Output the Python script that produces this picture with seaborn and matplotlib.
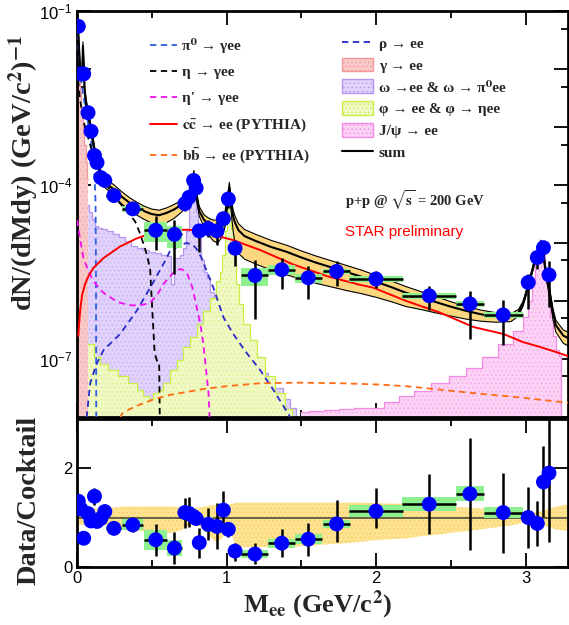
import numpy as np
import matplotlib
matplotlib.use('Agg')
import matplotlib.pyplot as plt
import seaborn as sns
from matplotlib.patches import Rectangle, Patch
from matplotlib.lines import Line2D

# ---- data points (STAR p+p 200 GeV dielectrons) ----
mass = [0.01, 0.028, 0.046, 0.075, 0.095, 0.118, 0.135, 0.16, 0.187, 0.248,
        0.374, 0.527, 0.652, 0.722, 0.75, 0.78, 0.797, 0.818, 0.878, 0.936,
        0.979, 1.012, 1.057, 1.19, 1.369, 1.546, 1.735, 1.998, 2.354, 2.626,
        2.848, 3.015, 3.076, 3.117, 3.154]
bin_half = [0, 0, 0, 0, 0, 0, 0, 0, 0, 0.05,
            0.07, 0.075, 0.05, 0, 0, 0, 0, 0, 0.03, 0.03,
            0, 0, 0, 0.09, 0.09, 0.09, 0.09, 0.18, 0.18, 0.095,
            0.13, 0, 0, 0, 0]
dn_log = [-1.26, -2.08, -2.08, -2.75, -3.07, -3.49, -3.61, -3.87, -3.92, -4.18,
          -4.41, -4.78, -4.85, -4.32, -4.21, -3.92, -4.05, -4.79, -4.75, -4.79,
          -4.58, -4.24, -5.09, -5.56, -5.46, -5.6, -5.49, -5.62, -5.91, -6.05,
          -6.24, -5.68, -5.25, -5.08, -5.55]
dn_err_dn = [0.02, 0.03, 0.03, 0.03, 0.03, 0.03, 0.03, 0.04, 0.04, 0.05,
             0.07, 0.34, 0.69, 0.12, 0.12, 0.06, 0.1, 0.36, 0.15, 0.24,
             0.12, 0.16, 0.31, 0.75, 0.34, 0.37, 0.25, 0.15, 0.25, 0.6,
             0.52, 0.46, 0.2, 0.22, 0.56]
dn_err_up = [0.02, 0.03, 0.03, 0.03, 0.03, 0.03, 0.03, 0.04, 0.04, 0.05,
             0.06, 0.24, 0.25, 0.1, 0.1, 0.05, 0.08, 0.09, 0.15, 0.21,
             0.08, 0.09, 0.14, 0.27, 0.2, 0.2, 0.18, 0.14, 0.17, 0.23,
             0.25, 0.14, 0.1, 0.08, 0.24]
ratio = [1.33, 1.17, 0.58, 1.08, 0.93, 1.43, 0.92, 0.98, 1.12, 0.78,
         0.85, 0.55, 0.38, 1.1, 1.08, 1.02, 0.98, 0.49, 0.86, 0.82,
         1.15, 0.76, 0.32, 0.26, 0.48, 0.56, 0.87, 1.13, 1.27, 1.48,
         1.1, 1.0, 0.88, 1.72, 1.9]
ratio_lo = [1.27, 1.11, 0.53, 1.02, 0.87, 1.25, 0.8, 0.88, 0.95, 0.68,
            0.7, 0.23, 0.05, 0.78, 0.8, 0.9, 0.85, 0.18, 0.55, 0.36,
            0.88, 0.6, 0.12, 0.06, 0.19, 0.23, 0.5, 0.78, 0.66, 0.34,
            0.29, 0.38, 0.42, 1.02, 0.51]
ratio_hi = [1.39, 1.23, 0.63, 1.14, 0.99, 1.6, 1.04, 1.08, 1.28, 0.88,
            1.0, 0.87, 0.71, 1.39, 1.41, 1.15, 1.1, 0.78, 1.2, 1.29,
            1.54, 0.9, 0.49, 0.49, 0.76, 0.88, 1.35, 1.6, 1.89, 2.61,
            1.91, 1.62, 1.33, 2.45, 3.2]
sys_ratio = [0.04, 0.04, 0.03, 0.04, 0.04, 0.05, 0.04, 0.04, 0.05, 0.05,
             0.11, 0.2, 0.16, 0.05, 0.05, 0.05, 0.05, 0.05, 0.15, 0.05,
             0.05, 0.05, 0.03, 0.09, 0.09, 0.1, 0.08, 0.12, 0.14, 0.15,
             0.11, 0.05, 0.05, 0.15, 0.15]

# ---- cocktail sum and its uncertainty band (ratio to sum) ----
sum_m = [0.003, 0.01, 0.02, 0.028, 0.036, 0.041, 0.046, 0.052, 0.06, 0.075,
         0.095, 0.118, 0.135, 0.16, 0.187, 0.22, 0.25, 0.3, 0.35, 0.4,
         0.45, 0.5, 0.55, 0.6, 0.65, 0.7, 0.73, 0.755, 0.772, 0.782,
         0.79, 0.8, 0.818, 0.85, 0.878, 0.91, 0.94, 0.97, 0.99, 1.005,
         1.019, 1.03, 1.045, 1.057, 1.08, 1.12, 1.2, 1.3, 1.4, 1.5,
         1.6, 1.7, 1.8, 1.9, 2.0, 2.1, 2.2, 2.3, 2.4, 2.5,
         2.6, 2.7, 2.8, 2.9, 2.95, 2.98, 3.0, 3.015, 3.04, 3.06,
         3.076, 3.09, 3.1, 3.11, 3.13, 3.155, 3.18, 3.2, 3.25, 3.29]
sum_log = [-1.2, -1.38, -1.9, -2.12, -2.1, -1.6, -1.9, -2.35, -2.55, -2.78,
           -3.04, -3.4, -3.57, -3.82, -3.97, -4.02, -4.08, -4.2, -4.3, -4.38,
           -4.45, -4.5, -4.52, -4.48, -4.42, -4.34, -4.28, -4.2, -4.0, -3.82,
           -3.98, -4.2, -4.45, -4.6, -4.66, -4.7, -4.7, -4.66, -4.55, -4.3,
           -4.05, -4.3, -4.55, -4.65, -4.78, -4.88, -4.97, -5.07, -5.15, -5.25,
           -5.34, -5.42, -5.5, -5.58, -5.67, -5.76, -5.86, -5.94, -6.02, -6.1,
           -6.17, -6.23, -6.27, -6.28, -6.2, -6.05, -5.88, -5.72, -5.5, -5.3,
           -5.18, -5.07, -5.0, -5.05, -5.45, -5.8, -6.2, -6.42, -6.6, -6.65]
band_lo = [0.85, 0.85, 0.85, 0.85, 0.85, 0.85, 0.85, 0.85, 0.85, 0.85,
           0.85, 0.85, 0.85, 0.85, 0.85, 0.8, 0.78, 0.75, 0.74, 0.73,
           0.72, 0.7, 0.68, 0.68, 0.7, 0.75, 0.8, 0.85, 0.87, 0.87,
           0.87, 0.85, 0.82, 0.75, 0.65, 0.55, 0.5, 0.58, 0.68, 0.75,
           0.78, 0.72, 0.55, 0.45, 0.4, 0.4, 0.4, 0.4, 0.4, 0.42,
           0.44, 0.46, 0.48, 0.51, 0.54, 0.56, 0.58, 0.62, 0.65, 0.69,
           0.72, 0.76, 0.8, 0.84, 0.87, 0.9, 0.92, 0.92, 0.91, 0.9,
           0.88, 0.87, 0.86, 0.85, 0.82, 0.8, 0.78, 0.76, 0.74, 0.73]
band_hi = [1.18, 1.18, 1.18, 1.18, 1.18, 1.18, 1.18, 1.18, 1.18, 1.18,
           1.18, 1.18, 1.18, 1.18, 1.18, 1.2, 1.2, 1.22, 1.22, 1.22,
           1.22, 1.22, 1.22, 1.22, 1.22, 1.2, 1.2, 1.2, 1.18, 1.18,
           1.18, 1.2, 1.2, 1.22, 1.24, 1.25, 1.25, 1.25, 1.25, 1.25,
           1.25, 1.27, 1.28, 1.3, 1.3, 1.3, 1.3, 1.3, 1.3, 1.3,
           1.3, 1.3, 1.3, 1.3, 1.29, 1.28, 1.28, 1.26, 1.24, 1.22,
           1.2, 1.18, 1.17, 1.15, 1.13, 1.1, 1.09, 1.09, 1.1, 1.1,
           1.11, 1.12, 1.12, 1.13, 1.15, 1.18, 1.2, 1.22, 1.25, 1.27]

# ---- cocktail components (log10 of dN/dMdy) ----
pi0_m = [0.002, 0.01, 0.02, 0.03, 0.04, 0.05, 0.06, 0.07, 0.08, 0.09,
         0.1, 0.11, 0.115, 0.12, 0.125, 0.128, 0.13]
pi0_log = [-1.2, -1.6, -1.95, -2.2, -2.4, -2.55, -2.7, -2.85, -3.0, -3.15,
           -3.35, -3.6, -3.75, -3.95, -4.3, -5.5, -8.2]
eta_m = [0.002, 0.02, 0.05, 0.1, 0.15, 0.2, 0.25, 0.3, 0.35, 0.39,
         0.42, 0.45, 0.47, 0.49, 0.505, 0.52, 0.535, 0.55, 0.555]
eta_log = [-2.0, -2.5, -2.95, -3.4, -3.75, -4.0, -4.2, -4.35, -4.5, -4.63,
           -4.82, -5.05, -5.22, -5.46, -6.2, -6.9, -7.03, -7.05, -8.2]
etap_m = [0.002, 0.02, 0.044, 0.08, 0.111, 0.178, 0.25, 0.289, 0.35, 0.4,
          0.45, 0.49, 0.54, 0.578, 0.62, 0.668, 0.7, 0.734, 0.77, 0.801,
          0.825, 0.845, 0.868, 0.88, 0.89]
etap_log = [-4.6, -4.9, -5.26, -5.5, -5.66, -5.86, -5.98, -6.03, -6.07, -6.08,
            -6.06, -6.03, -5.88, -5.71, -5.58, -5.46, -5.45, -5.51, -5.75, -6.11,
            -6.4, -6.74, -7.3, -7.6, -8.2]
cc_m = [0.01, 0.015, 0.022, 0.035, 0.055, 0.08, 0.111, 0.178, 0.289, 0.4,
        0.511, 0.623, 0.734, 0.845, 0.957, 1.045, 1.224, 1.446, 1.669, 1.89,
        1.98, 2.2, 2.425, 2.65, 2.85, 2.98, 3.09, 3.2, 3.29]
cc_log = [-6.6, -6.4, -6.17, -5.9, -5.71, -5.56, -5.43, -5.26, -5.06, -4.92,
          -4.82, -4.78, -4.77, -4.79, -4.89, -4.95, -5.12, -5.37, -5.57, -5.72,
          -5.77, -6.0, -6.2, -6.45, -6.57, -6.71, -6.79, -6.88, -6.96]
bb_m = [0.27, 0.3, 0.35, 0.4, 0.511, 0.623, 0.845, 1.0, 1.224, 1.49,
        1.76, 2.0, 2.2, 2.425, 2.65, 2.98, 3.29]
bb_log = [-8.2, -7.95, -7.87, -7.81, -7.7, -7.62, -7.52, -7.47, -7.42, -7.41,
          -7.42, -7.44, -7.47, -7.53, -7.59, -7.67, -7.76]
rho_m = [0.06, 0.067, 0.089, 0.13, 0.178, 0.289, 0.4, 0.49, 0.6, 0.62,
         0.68, 0.73, 0.77, 0.8, 0.834, 0.87, 0.912, 0.979, 1.045, 1.135,
         1.224, 1.312, 1.42, 1.45]
rho_log = [-8.2, -7.98, -7.42, -7.1, -6.85, -6.57, -6.17, -5.77, -5.26, -5.15,
           -5.05, -5.0, -5.02, -5.1, -5.26, -5.5, -5.77, -6.28, -6.57, -6.9,
           -7.19, -7.53, -7.98, -8.2]

gam_m = [0.005, 0.015, 0.025, 0.035, 0.045, 0.055, 0.065, 0.075]
gam_log = [-1.85, -2.1, -2.4, -2.7, -3.1, -3.3, -3.6, -3.9]
omega_m = [0.0, 0.01, 0.02, 0.03, 0.04, 0.05, 0.07, 0.09, 0.11, 0.13,
           0.15, 0.18, 0.22, 0.26, 0.3, 0.34, 0.38, 0.42, 0.46, 0.5,
           0.54, 0.58, 0.62, 0.64, 0.66, 0.68, 0.7, 0.72, 0.74, 0.76,
           0.78, 0.79, 0.8, 0.82, 0.84, 0.86, 0.88, 0.9, 0.93, 0.96,
           1.0, 1.05, 1.1, 1.15, 1.2, 1.25, 1.3, 1.35, 1.4, 1.45, 1.48]
omega_log = [-3.8, -3.8, -3.9, -3.95, -4.0, -4.15, -4.35, -4.46, -4.58, -4.7,
             -4.74, -4.76, -4.8, -4.85, -4.9, -4.97, -5.05, -5.09, -5.12, -5.15,
             -5.17, -5.2, -5.22, -5.7, -5.25, -5.26, -5.2, -5.09, -4.8, -4.24,
             -3.95, -4.2, -4.46, -4.85, -5.3, -5.5, -5.6, -5.85, -6.1, -6.3,
             -6.45, -6.6, -6.75, -6.9, -7.1, -7.25, -7.35, -7.5, -7.7, -7.85, -8.2]
phi_m = [0.005, 0.02, 0.044, 0.089, 0.134, 0.178, 0.245, 0.311, 0.378, 0.422,
         0.467, 0.5, 0.523, 0.556, 0.6, 0.645, 0.69, 0.734, 0.778, 0.823,
         0.867, 0.912, 0.945, 0.965, 0.98, 0.995, 1.005, 1.012, 1.019, 1.026,
         1.035, 1.045, 1.057, 1.075, 1.09, 1.135, 1.18, 1.224, 1.29, 1.357,
         1.42, 1.45]
phi_log = [-6.22, -6.3, -6.57, -6.74, -6.96, -7.08, -7.19, -7.3, -7.42, -7.53,
           -7.64, -7.7, -7.59, -7.53, -7.42, -7.19, -7.02, -6.79, -6.62, -6.4,
           -6.17, -5.94, -5.66, -5.5, -5.2, -4.8, -4.5, -4.25, -4.12, -4.4,
           -4.75, -5.0, -5.2, -5.7, -6.05, -6.4, -6.68, -6.96, -7.3, -7.59,
           -7.87, -8.2]
jpsi_m = [1.5, 1.6, 1.7, 1.8, 1.9, 2.0, 2.1, 2.2, 2.3, 2.425,
          2.55, 2.65, 2.76, 2.87, 2.96, 3.0, 3.03, 3.05, 3.07, 3.085,
          3.1, 3.115, 3.137, 3.155, 3.17, 3.19, 3.21, 3.23, 3.24]
jpsi_log = [-7.92, -7.9, -7.88, -7.86, -7.85, -7.84, -7.75, -7.64, -7.55, -7.42,
            -7.3, -7.16, -6.96, -6.74, -6.51, -6.28, -6.0, -5.71, -5.35, -5.15,
            -5.03, -5.15, -5.43, -5.9, -6.28, -6.6, -6.85, -6.95, -8.2]


sns.set_theme(style='ticks')
plt.rcParams['font.family'] = ['Liberation Serif', 'DejaVu Serif']
plt.rcParams['mathtext.fontset'] = 'stix'
plt.rcParams['hatch.linewidth'] = 0.5

FLOOR = 1e-9
SANS = ['Liberation Sans', 'DejaVu Sans']


def p10(v):
    return 10.0 ** np.asarray(v)


def hist(ax, m, logv, face, dots, edge, z):
    y = p10(logv)
    ax.fill_between(m, y, FLOOR, step='mid', facecolor=face, edgecolor=dots,
                    hatch='....', linewidth=0, zorder=z)
    ax.step(m, y, where='mid', color=edge, lw=0.9, zorder=z)


def curve(ax, m, logv, color, ls, lw=1.3, z=3):
    sns.lineplot(x=m, y=p10(logv), ax=ax, color=color, linestyle=ls, lw=lw,
                 estimator=None, sort=False, legend=False, zorder=z)


fig = plt.figure(figsize=(5.69, 6.25), dpi=100)
ax1 = fig.add_axes([0.135, 0.333, 0.863, 0.649])
ax2 = fig.add_axes([0.135, 0.093, 0.863, 0.237])
ax1.set_yscale('log')

# colours: face, dots, outline
c_gam = ('#f9c8c8', '#f4a8a8', '#f29a9a')
c_omg = ('#e0d2fb', '#c6aef5', '#b798f0')
c_phi = ('#f0f9c6', '#dcf27e', '#c8ee48')
c_jps = ('#fcd2f5', '#f6a8ec', '#f38be4')
c_band = '#fcd77f'
dash = (0, (3.5, 2.5))

# ---- top panel ----
hist(ax1, omega_m, omega_log, *c_omg, z=1.0)
hist(ax1, phi_m, phi_log, *c_phi, z=1.1)
hist(ax1, jpsi_m, jpsi_log, *c_jps, z=1.2)
hist(ax1, gam_m, gam_log, *c_gam, z=1.3)

ysum = p10(sum_log)
ax1.fill_between(sum_m, ysum * np.array(band_lo), ysum * np.array(band_hi),
                 facecolor=c_band, edgecolor='none', zorder=2)
ax1.plot(sum_m, ysum * np.array(band_lo), color='black', lw=0.8, zorder=2.1)
ax1.plot(sum_m, ysum * np.array(band_hi), color='black', lw=0.8, zorder=2.1)

curve(ax1, pi0_m, pi0_log, '#2f5fe0', dash)
curve(ax1, eta_m, eta_log, 'black', dash)
curve(ax1, etap_m, etap_log, '#f010f0', dash)
curve(ax1, rho_m, rho_log, '#2a2ac8', dash)
curve(ax1, bb_m, bb_log, '#ff6a13', dash)
curve(ax1, cc_m, cc_log, '#ff0000', '-', lw=1.4, z=3.5)
curve(ax1, sum_m, sum_log, 'black', '-', lw=1.5, z=3.6)

ydat = p10(dn_log)
r = np.array(ratio)
srel = np.array(sys_ratio) / r
for xi, yi, wi, si in zip(mass, ydat, bin_half, srel):
    w = max(wi, 0.012)
    ax1.add_patch(Rectangle((xi - w, yi * (1 - si)), 2 * w, yi * 2 * si,
                            facecolor='#8ef08e', edgecolor='none', zorder=5))
ax1.errorbar(mass, ydat,
             yerr=[ydat - p10(np.array(dn_log) - np.array(dn_err_dn)),
                   p10(np.array(dn_log) + np.array(dn_err_up)) - ydat],
             xerr=bin_half, fmt='none', ecolor='black', elinewidth=1.8,
             capsize=0, zorder=6)
sns.scatterplot(x=mass, y=ydat, ax=ax1, s=115, color='#0000ff',
                edgecolor='none', zorder=7, legend=False)

ax1.set_xlim(0, 3.28)
ax1.set_ylim(1.15e-8, 0.1)

# legends
lg_left = [Line2D([], [], color='#2f5fe0', ls=dash, lw=1.3),
           Line2D([], [], color='black', ls=dash, lw=1.3),
           Line2D([], [], color='#f010f0', ls=dash, lw=1.3),
           Line2D([], [], color='#ff0000', lw=1.4),
           Line2D([], [], color='#ff6a13', ls=dash, lw=1.3)]
lb_left = ['π⁰ → γee',
           'η → γee',
           "η' → γee",
           r'$\mathbf{c\bar{c}}$ → ee (PYTHIA)',
           r'$\mathbf{b\bar{b}}$ → ee (PYTHIA)']
leg1 = ax1.legend(lg_left, lb_left, loc='upper left', bbox_to_anchor=(0.149, 0.934),
                  frameon=False, handlelength=1.8, handletextpad=0.3,
                  labelspacing=0.8, borderpad=0, borderaxespad=0,
                  prop={'weight': 'bold', 'size': 11})
ax1.add_artist(leg1)
lg_right = [Line2D([], [], color='#2a2ac8', ls=dash, lw=1.3),
            Patch(facecolor=c_gam[0], edgecolor=c_gam[2], hatch='....'),
            Patch(facecolor=c_omg[0], edgecolor=c_omg[2], hatch='....'),
            Patch(facecolor=c_phi[0], edgecolor=c_phi[2], hatch='....'),
            Patch(facecolor=c_jps[0], edgecolor=c_jps[2], hatch='....'),
            Line2D([], [], color='black', lw=1.5)]
lb_right = ['ρ → ee',
            'γ → ee',
            'ω →ee & ω → π⁰ee',
            'φ → ee & φ → ηee',
            'J/ψ → ee',
            'sum']
ax1.legend(lg_right, lb_right, loc='upper left', bbox_to_anchor=(0.54, 0.94),
           frameon=False, handlelength=2.0, handleheight=1.0, handletextpad=0.4,
           labelspacing=0.45, borderpad=0, borderaxespad=0,
           prop={'weight': 'bold', 'size': 11})

ax1.text(0.546, 0.535, r'p+p @ $\sqrt{\mathbf{s}}$ = 200 GeV', transform=ax1.transAxes,
         fontsize=10.5, fontweight='bold', va='center')
ax1.text(0.546, 0.456, 'STAR preliminary', transform=ax1.transAxes, color='red',
         fontsize=11, va='center', family=SANS)

decades = [1e-8, 1e-7, 1e-6, 1e-5, 1e-4, 1e-3, 1e-2, 1e-1]
ax1.set_yticks(decades)
ax1.set_yticklabels(['', r'$\mathregular{10^{-7}}$', '', '', r'$\mathregular{10^{-4}}$',
                     '', '', r'$\mathregular{10^{-1}}$'])
ax1.set_yticks([5e-8, 5e-7, 5e-6, 5e-5, 5e-4, 5e-3, 5e-2], minor=True)
ax1.yaxis.set_minor_formatter(matplotlib.ticker.NullFormatter())
ax1.set_ylabel(r'dN/(dMdy) (GeV/c$^{\mathbf{2}}$)$^{\mathbf{-1}}$',
               fontsize=20.5, fontweight='bold')
ax1.yaxis.set_label_coords(-0.073, 0.6)

# ---- bottom panel ----
ax2.fill_between(sum_m, band_lo, band_hi, facecolor='#fde391', edgecolor='#f8cc5e',
                 hatch='....', linewidth=0, zorder=1)
ax2.axhline(1.0, color='#4d4d33', lw=1.2, zorder=2)
for xi, ri, wi, si in zip(mass, ratio, bin_half, sys_ratio):
    w = max(wi, 0.012)
    ax2.add_patch(Rectangle((xi - w, ri - si), 2 * w, 2 * si,
                            facecolor='#8ef08e', edgecolor='none', zorder=3))
ax2.errorbar(mass, ratio, yerr=[r - np.array(ratio_lo), np.array(ratio_hi) - r],
             xerr=bin_half, fmt='none', ecolor='black', elinewidth=1.8,
             capsize=0, zorder=4)
sns.scatterplot(x=mass, y=ratio, ax=ax2, s=115, color='#0000ff',
                edgecolor='none', zorder=5, legend=False)
ax2.set_xlim(0, 3.28)
ax2.set_ylim(0, 3.0)
ax2.set_yticks([0, 2])
ax2.set_yticks([1], minor=True)
ax2.set_ylabel('Data/Cocktail', fontsize=20.5, fontweight='bold')
ax2.yaxis.set_label_coords(-0.072, 0.45)
ax2.set_xlabel(r'M$_{\mathbf{ee}}$ (GeV/c$^{\mathbf{2}}$)', fontsize=19, fontweight='bold')
ax2.xaxis.set_label_coords(0.49, -0.145)

for ax in (ax1, ax2):
    ax.set_xticks([0, 1, 2, 3])
    ax.set_xticks([0.5, 1.5, 2.5], minor=True)
    ax.tick_params(which='both', direction='in', top=True, right=True,
                   width=1.3, colors='black', labelsize=12, pad=3)
    ax.tick_params(which='major', length=10)
    ax.tick_params(which='minor', length=5)
    for sp in ax.spines.values():
        sp.set_linewidth(2.0)
        sp.set_color('black')
    for lab in ax.get_xticklabels() + ax.get_yticklabels():
        lab.set_family(SANS)
ax1.tick_params(labelbottom=False)

fig.savefig('out.png', dpi=100)
